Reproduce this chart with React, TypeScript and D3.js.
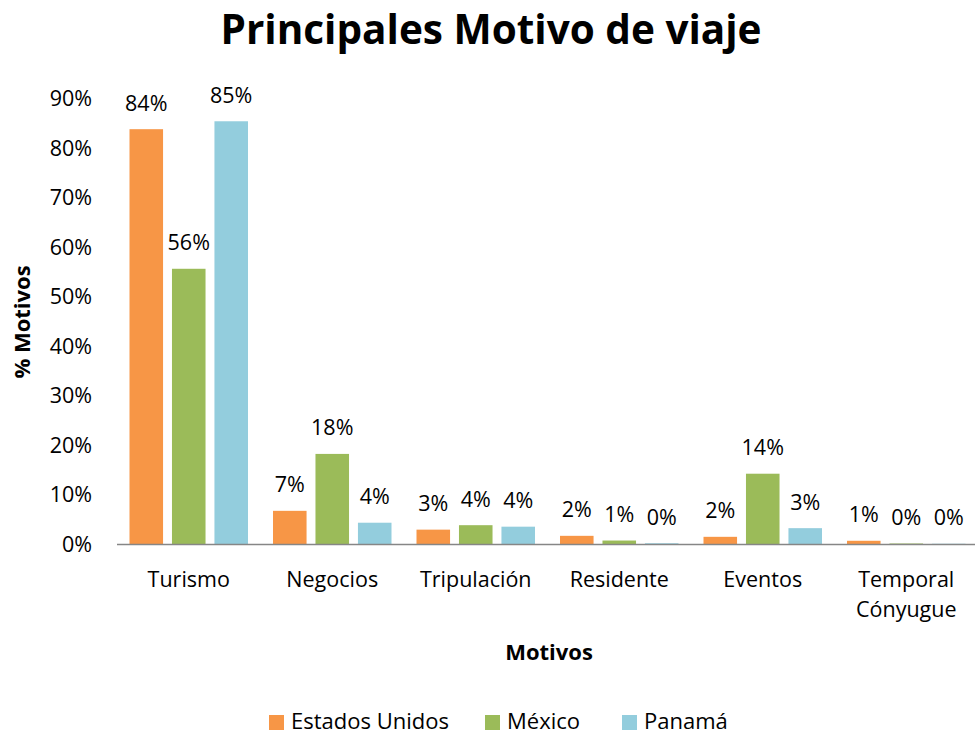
import React from "react";
import * as d3 from "d3";

const categories: string[][] = [["Turismo"], ["Negocios"], ["Tripulación"], ["Residente"], ["Eventos"], ["Temporal", "Cónyugue"]];
const seriesNames = ["Estados Unidos", "México", "Panamá"];
const seriesColors = ["#F79646", "#9BBB59", "#93CDDD"];
const estadosUnidos = [83.8, 6.7, 2.9, 1.65, 1.45, 0.65];
const mexico = [55.6, 18.2, 3.8, 0.7, 14.2, 0.1];
const panama = [85.4, 4.3, 3.5, 0.15, 3.2, 0.05];
const labelsEU = ["84%", "7%", "3%", "2%", "2%", "1%"];
const labelsMX = ["56%", "18%", "4%", "1%", "14%", "0%"];
const labelsPA = ["85%", "4%", "4%", "0%", "3%", "0%"];
const yTicks = [0, 10, 20, 30, 40, 50, 60, 70, 80, 90];

const W = 975;
const H = 734;
const FONT = "'Open Sans', 'Noto Sans', sans-serif";

export default function App() {
  const values = [estadosUnidos, mexico, panama];
  const labels = [labelsEU, labelsMX, labelsPA];
  const keys = categories.map((c) => c.join(" "));
  const x = d3.scaleBand<string>().domain(keys).range([117, 978]).paddingInner(0).paddingOuter(0);
  const inner = d3.scaleBand<string>().domain(seriesNames).range([12.5, x.bandwidth() - 12.5]).paddingInner(0.21).paddingOuter(0);
  const y = d3.scaleLinear().domain([0, 90]).range([544, 98.5]);

  return (
    <svg width={W} height={H} style={{ position: "absolute", left: 0, top: 0, background: "#fff" }} fontFamily={FONT}>
      <rect width={W} height={H} fill="#fff" />
      <text x={491} y={44} textAnchor="middle" fontSize={40.5} fontWeight="bold" fill="#000">Principales Motivo de viaje</text>
      {yTicks.map((t) => (
        <text key={t} x={92} y={y(t)} dy="0.35em" textAnchor="end" fontSize={21.5} fill="#000">{t}%</text>
      ))}
      <text transform={`translate(30,${322}) rotate(-90)`} textAnchor="middle" fontSize={22} fontWeight="bold" fill="#000">% Motivos</text>
      {keys.map((k, ci) => (
        <g key={k} transform={`translate(${x(k)},0)`}>
          {seriesNames.map((s, si) => {
            const v = values[si][ci];
            const bx = inner(s)!;
            return (
              <g key={s}>
                <rect x={bx} y={y(v)} width={inner.bandwidth()} height={y(0) - y(v)} fill={seriesColors[si]} />
                <text x={bx + inner.bandwidth() / 2} y={y(v) - 26} dy="0.35em" textAnchor="middle" fontSize={21.5} fill="#000">{labels[si][ci]}</text>
              </g>
            );
          })}
          {categories[ci].map((line, li) => (
            <text key={li} x={x.bandwidth() / 2} y={579 + li * 30} dy="0.35em" textAnchor="middle" fontSize={21.5} fill="#000">{line}</text>
          ))}
        </g>
      ))}
      <line x1={117} x2={978} y1={544.5} y2={544.5} stroke="#868686" strokeWidth={1.5} />
      <text x={549} y={652} dy="0.35em" textAnchor="middle" fontSize={22} fontWeight="bold" fill="#000">Motivos</text>
      {(() => {
        const starts = [269, 485, 622];
        return seriesNames.map((s, i) => (
          <g key={s}>
            <rect x={starts[i]} y={715} width={15} height={15} fill={seriesColors[i]} />
            <text x={starts[i] + 22} y={728.5} fontSize={22} fill="#000">{s}</text>
          </g>
        ));
      })()}
    </svg>
  );
}
